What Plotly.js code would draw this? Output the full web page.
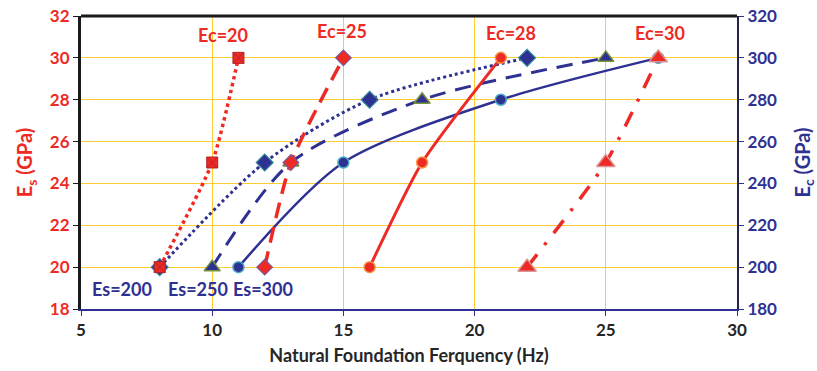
<!DOCTYPE html>
<html>
<head>
<meta charset="utf-8">
<script src="https://cdn.plot.ly/plotly-3.0.1.min.js"></script>
<style>html,body{margin:0;padding:0;background:#fff;}#chart{width:817px;height:371px;}</style>
</head>
<body>
<div id="chart"></div>
<script>
// Blue series (right axis, Ec in GPa) : constant Es
const es200_x = [8, 12, 16, 22];
const es200_y = [200, 250, 280, 300];
const es250_x = [10, 13, 18, 25];
const es250_y = [200, 250, 280, 300];
const es300_x = [11, 15, 21, 27];
const es300_y = [200, 250, 280, 300];
// Red series (left axis, Es in GPa) : constant Ec
const ec20_x = [8, 10, 11];
const ec20_y = [20, 25, 30];
const ec25_x = [12, 13, 15];
const ec25_y = [20, 25, 30];
const ec28_x = [16, 18, 21];
const ec28_y = [20, 25, 30];
const ec30_x = [22, 25, 27];
const ec30_y = [20, 25, 30];
// Labels
const redLabels = ["Ec=20", "Ec=25", "Ec=28", "Ec=30"];
const redLabelX = [10.4, 14.95, 21.4, 27.05];
const redLabelY = [31.1, 31.3, 31.2, 31.2];
const blueLabels = ["Es=200", "Es=250", "Es=300"];
const blueLabelX = [6.55, 9.45, 11.95];
const blueLabelY = [18.95, 18.95, 18.95];

const RED = '#ee2a24';
const BLUE = '#2e3192';
const FONT = 'Lato, "Open Sans", sans-serif';
const GRID = '#ffcc33';

// Blue traces on the primary (right-side) axis 'y', red traces on overlaid left axis 'y2' so red is drawn on top
const traces = [
  {x: es200_x, y: es200_y, yaxis: 'y', mode: 'lines+markers',
   line: {color: BLUE, width: 3, dash: 'dot', shape: 'spline', smoothing: 0.8},
   marker: {symbol: 'diamond', size: 13, color: BLUE, line: {color: '#31859c', width: 1.2}}},
  {x: es250_x, y: es250_y, yaxis: 'y', mode: 'lines+markers',
   line: {color: BLUE, width: 3, dash: '16px,10px', shape: 'spline', smoothing: 0.8},
   marker: {symbol: 'triangle-up', size: 14, color: BLUE, line: {color: '#77933c', width: 1.5}}},
  {x: es300_x, y: es300_y, yaxis: 'y', mode: 'lines+markers',
   line: {color: BLUE, width: 2.5, shape: 'spline', smoothing: 0.8},
   marker: {symbol: 'circle', size: 11, color: BLUE, line: {color: '#4bacc6', width: 1.5}}},
  {x: ec20_x, y: ec20_y, yaxis: 'y2', mode: 'lines+markers',
   line: {color: RED, width: 3.5, dash: 'dot', shape: 'spline', smoothing: 0.6},
   marker: {symbol: 'square-x', size: 11, color: RED, line: {color: '#b0232a', width: 1}}},
  {x: ec25_x, y: ec25_y, yaxis: 'y2', mode: 'lines+markers',
   line: {color: RED, width: 3.5, dash: '16px,9px', shape: 'spline', smoothing: 0.6},
   marker: {symbol: 'diamond', size: 12, color: RED, line: {color: '#7a5a9a', width: 1.2}}},
  {x: ec28_x, y: ec28_y, yaxis: 'y2', mode: 'lines+markers',
   line: {color: RED, width: 3, shape: 'spline', smoothing: 0.6},
   marker: {symbol: 'circle', size: 11, color: RED, line: {color: '#f79646', width: 1.5}}},
  {x: ec30_x, y: ec30_y, yaxis: 'y2', mode: 'lines+markers',
   line: {color: RED, width: 3.5, dash: '16px,12px,3px,12px', shape: 'spline', smoothing: 0.6},
   marker: {symbol: 'triangle-up', size: 16, color: RED, line: {color: '#d99694', width: 1.5}}}
];

const annotations = [];
redLabels.forEach((t, i) => annotations.push({
  x: redLabelX[i], y: redLabelY[i], xref: 'x', yref: 'y2', text: '<b>' + t + '</b>', showarrow: false,
  font: {family: FONT, size: 18, color: RED}
}));
blueLabels.forEach((t, i) => annotations.push({
  x: blueLabelX[i], y: blueLabelY[i], xref: 'x', yref: 'y2', text: '<b>' + t + '</b>', showarrow: false,
  font: {family: FONT, size: 18, color: BLUE}
}));

const layout = {
  width: 817, height: 371,
  margin: {l: 81, r: 80, t: 16, b: 62},
  paper_bgcolor: '#fff', plot_bgcolor: '#fff',
  showlegend: false,
  font: {family: FONT},
  xaxis: {
    range: [5, 30], dtick: 5, tick0: 5,
    showgrid: true, gridcolor: GRID, gridwidth: 1,
    zeroline: false,
    showline: true, linecolor: BLUE, linewidth: 2,
    ticks: 'outside', ticklen: 5, tickcolor: BLUE,
    tickfont: {family: FONT, size: 17, color: '#262626', weight: 'bold'},
    title: {text: '<b>Natural Foundation Ferquency (Hz)</b>', standoff: 10,
            font: {family: FONT, size: 18, color: '#262626'}}
  },
  yaxis: {
    range: [180, 320], dtick: 20, side: 'right',
    showgrid: true, gridcolor: GRID, gridwidth: 1,
    zeroline: false,
    showline: true, linecolor: '#22244a', linewidth: 2,
    ticks: 'outside', ticklen: 5, tickcolor: BLUE,
    tickfont: {family: FONT, size: 17, color: BLUE, weight: 'bold'},
    title: {text: '<b>E<sub>c</sub> (GPa)</b>', standoff: 22,
            font: {family: FONT, size: 20, color: BLUE}}
  },
  yaxis2: {
    range: [18, 32], dtick: 2, overlaying: 'y', side: 'left',
    showgrid: false,
    zeroline: false,
    showline: true, linecolor: '#1a1a1a', linewidth: 3,
    ticks: 'outside', ticklen: 5, tickcolor: '#1a1a1a',
    tickfont: {family: FONT, size: 17, color: RED, weight: 'bold'},
    title: {text: '<b>E<sub>s</sub> (GPa)</b>', standoff: 12,
            font: {family: FONT, size: 20, color: RED}}
  },
  shapes: [
    {type: 'line', xref: 'paper', yref: 'paper', x0: 0, x1: 1, y0: 1, y1: 1,
     line: {color: '#1a1a1a', width: 3}}
  ],
  annotations: annotations
};

Plotly.newPlot('chart', traces, layout, {displayModeBar: false, staticPlot: true});
</script>
</body>
</html>
